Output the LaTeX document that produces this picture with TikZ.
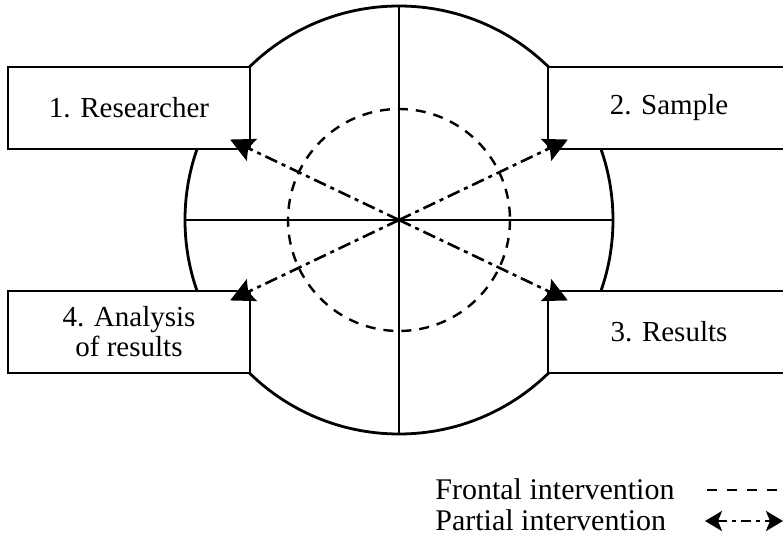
\documentclass[tikz,border=0pt]{standalone}
\usepackage{fontspec}
\setmainfont{Liberation Serif}
\usetikzlibrary{arrows.meta}

\begin{document}
\begin{tikzpicture}[x=0.5pt, y=-0.5pt,
        phase/.style={draw, line width=1.4pt, fill=white, minimum width=121pt,
                minimum height=41pt, outer sep=0pt, align=center,
                font=\fontsize{14.5}{15}\selectfont},
        partial/.style={line width=1.3pt, dash pattern=on 6.5pt off 2.5pt on 2pt off 2.5pt},
        frontal/.style={line width=1.2pt, dash pattern=on 5pt off 4pt},
        tip/.style={-{Stealth[length=12pt, width=12pt, inset=2pt]}, shorten >=-11pt},
        legend/.style={anchor=west, inner sep=0pt, font=\fontsize{15}{16}\selectfont}]
    \clip (0,0) rectangle (783,534);
    \coordinate (c) at (399,220);
    % quadrants and circles
    \draw[line width=0.7pt] (399,6) -- (399,434);
    \draw[line width=0.7pt] (185,220) -- (613,220);
    \draw[line width=1.4pt] (c) circle[radius=214];
    \draw[frontal] (c) circle[radius=111];
    % phases
    \node[phase] (res) at (129,108) {1. Researcher};
    \node[phase] (sam) at (669,108) {2. Sample};
    \node[phase] (rsl) at (669,332) {3. Results};
    \node[phase] (ana) at (129,332) {4. Analysis\\of results};
    % partial interventions
    \draw[partial, tip] (c) -- (res.south east);
    \draw[partial, tip] (c) -- (sam.south west);
    \draw[partial, tip] (c) -- (rsl.north west);
    \draw[partial, tip] (c) -- (ana.north east);
    % legend
    \node[legend] (fr) at (435,489) {Frontal intervention};
    \node[legend] (pa) at (435,520) {Partial intervention};
    \coordinate (fr1) at (707,490);
    \coordinate (fr2) at (783,490);
    \coordinate (pa1) at (705,521);
    \coordinate (pa2) at (783,521);
    \draw[frontal, dash pattern=on 5pt off 5pt] (fr1) -- (fr2);
    \draw[partial, dash pattern=on 5pt off 2.5pt on 2pt off 2.5pt,
        {Stealth[length=8.5pt, width=10pt, inset=2pt]}-{Stealth[length=8.5pt, width=10pt, inset=2pt]}] (pa1) -- (pa2);
\end{tikzpicture}
\end{document}
